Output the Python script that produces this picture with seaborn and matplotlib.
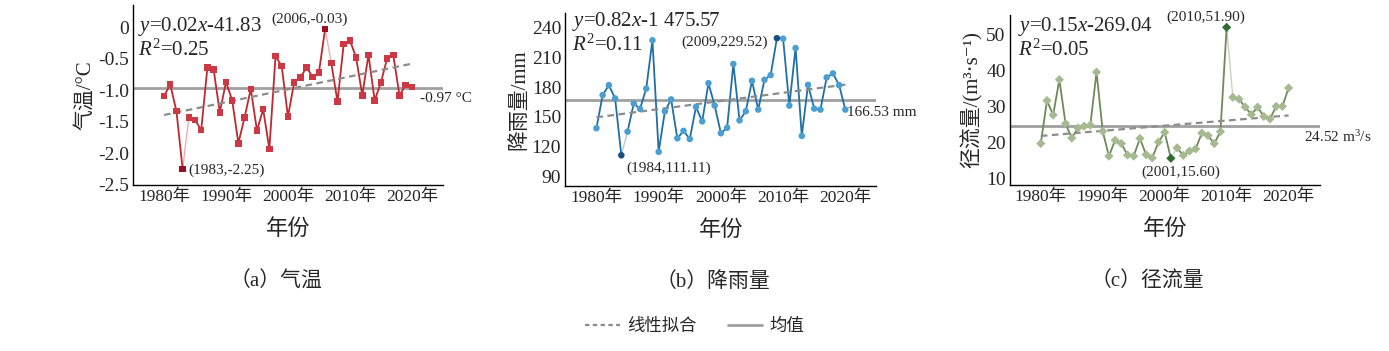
import numpy as np
import pandas as pd
import seaborn as sns
import matplotlib.pyplot as plt
from matplotlib.lines import Line2D

years = list(range(1980, 2021))

temp = [-1.09, -0.91, -1.33, -2.25, -1.43, -1.47, -1.63, -0.64, -0.67, -1.35,
        -0.87, -1.16, -1.84, -1.43, -0.98, -1.64, -1.30, -1.93, -0.46, -0.62,
        -1.42, -0.88, -0.80, -0.64, -0.79, -0.72, -0.03, -0.57, -1.18, -0.27,
        -0.21, -0.48, -1.08, -0.44, -1.16, -0.88, -0.50, -0.44, -1.08, -0.92,
        -0.95]
rain = [138.5, 172.0, 182.0, 168.6, 111.11, 135.0, 163.5, 158.0, 178.5, 227.4,
        114.6, 155.6, 167.6, 128.3, 135.8, 127.6, 160.0, 145.4, 184.0, 161.4,
        133.4, 138.9, 203.4, 146.4, 155.6, 186.4, 157.3, 187.4, 192.2, 229.52,
        229.0, 161.4, 219.5, 130.7, 182.3, 158.3, 157.3, 189.8, 193.9, 182.0,
        157.3]
runoff = [19.7, 31.6, 27.6, 37.4, 25.2, 21.2, 24.0, 24.5, 24.8, 39.5,
          23.1, 16.2, 20.6, 19.7, 16.5, 16.2, 21.1, 16.6, 15.7, 20.1,
          22.8, 15.60, 18.5, 16.4, 17.6, 18.2, 22.6, 21.9, 19.7, 23.0,
          51.90, 32.5, 32.0, 29.8, 27.7, 29.8, 27.2, 26.5, 30.0, 30.0,
          35.1]

means = [-0.97, 166.53, 24.52]
mean_texts = ["-0.97 °C", "166.53 mm", "24.52 m$^3$/s"]
equations = ["$y$=0.02$x$-41.83", "$y$=0.82$x$-1 475.57", "$y$=0.15$x$-269.04"]
r2_texts = ["$R^2$=0.25", "$R^2$=0.11", "$R^2$=0.05"]
ylabels = ["气温/°C", "降雨量/mm", "径流量/(m³·s⁻¹)"]
captions = ["（a）气温", "（b）降雨量", "（c）径流量"]
xtick_years = [1980, 1990, 2000, 2010, 2020]
extremes = [[1983, 2006], [1984, 2009], [2001, 2010]]
extreme_labels = [["(1983,-2.25)", "(2006,-0.03)"],
                  ["(1984,111.11)", "(2009,229.52)"],
                  ["(2001,15.60)", "(2010,51.90)"]]

sns.set_style("white")
plt.rcParams['font.family'] = ['Liberation Serif', 'Noto Sans CJK SC', 'DejaVu Serif']
plt.rcParams['mathtext.fontset'] = 'custom'
plt.rcParams['mathtext.rm'] = 'Liberation Serif'
plt.rcParams['mathtext.it'] = 'Liberation Serif:italic'

fig = plt.figure(figsize=(13.89, 3.51), dpi=100)
boxes = [[0.0958, 0.473, 0.223, 0.513],
         [0.407, 0.470, 0.224, 0.493],
         [0.727, 0.473, 0.223, 0.484]]
ylims = [(-2.5, 0.35), (80, 255), (8.2, 55.3)]
yticks = [np.arange(-2.5, 0.01, 0.5), np.arange(90, 241, 30), np.arange(10, 51, 10)]
styles = [dict(line="#c0282f", mk="#cc3844", dark="#9a1020", light="#eab0b0", marker="s", ms=22),
          dict(line="#1f6fa8", mk="#4a9fd0", dark="#174f80", light="#b8c8d6", marker="o", ms=22),
          dict(line="#6e8a58", mk="#a6ba92", dark="#2e6b30", light="#c8d2be", marker="D", ms=22)]
ann_offsets = [[(44, -1), (-16, 10)],
               [(47, -13), (-52, -4)],
               [(10, -14), (-21, 10)]]
mean_pos = [(0.925, -10), (0.904, -12), (0.95, -11)]
eq_pos = [(0.016, 0.878, 0.75), (0.022, 0.948, 0.815), (0.026, 0.93, 0.794)]

for k, vals in enumerate([temp, rain, runoff]):
    ax = fig.add_axes(boxes[k])
    st = styles[k]
    df = pd.DataFrame({"year": years, "value": vals})

    # the segment right after an extreme point is drawn light
    cuts = sorted(years.index(y) for y in extremes[k])
    start = 0
    for c in cuts:
        sns.lineplot(data=df.iloc[start:c + 1], x="year", y="value", ax=ax,
                     color=st["line"], lw=1.3, zorder=2)
        sns.lineplot(data=df.iloc[c:c + 2], x="year", y="value", ax=ax,
                     color=st["light"], lw=1.0, zorder=1)
        start = c + 1
    sns.lineplot(data=df.iloc[start:], x="year", y="value", ax=ax,
                 color=st["line"], lw=1.3, zorder=2)

    normal = df[~df["year"].isin(extremes[k])]
    ext = df[df["year"].isin(extremes[k])]
    sns.scatterplot(data=normal, x="year", y="value", ax=ax, marker=st["marker"],
                    s=st["ms"], color=st["mk"], edgecolor="none", zorder=3)
    sns.scatterplot(data=ext, x="year", y="value", ax=ax, marker=st["marker"],
                    s=st["ms"], color=st["dark"], edgecolor="none", zorder=3)

    sns.regplot(data=df, x="year", y="value", ax=ax, scatter=False, ci=None,
                line_kws=dict(color="#8c8c8c", ls=(0, (3, 2)), lw=1.6), truncate=True)
    ax.axhline(means[k], color="#a0a0a0", lw=2, zorder=0)

    ax.set_xlim(1975, 2025)
    ax.set_ylim(*ylims[k])
    ax.set_xticks(xtick_years)
    ax.set_xticklabels([f"{y}年" for y in xtick_years])
    ax.set_yticks(yticks[k])
    if k == 0:
        ax.set_yticklabels(["-2.5", "-2.0", "-1.5", "-1.0", "-0.5", "0"])
    ax.tick_params(direction="in", length=3, width=0.8, pad=3)
    ax.tick_params(axis="x", labelsize=12.5)
    ax.tick_params(axis="y", labelsize=14)
    ax.set_xlabel("年份", fontsize=16, labelpad=10)
    ax.set_ylabel(ylabels[k], fontsize=15, labelpad=2)
    sns.despine(ax=ax)
    for sp in ["left", "bottom"]:
        ax.spines[sp].set_color("black")
        ax.spines[sp].set_linewidth(1.0)

    ex, ey1, ey2 = eq_pos[k]
    ax.text(ex, ey1, equations[k], transform=ax.transAxes, fontsize=15, va="center")
    ax.text(ex, ey2, r2_texts[k], transform=ax.transAxes, fontsize=15, va="center")

    for j, yr in enumerate(extremes[k]):
        v = vals[years.index(yr)]
        ax.annotate(extreme_labels[k][j], xy=(yr, v), xytext=ann_offsets[k][j],
                    textcoords="offset pixels", ha="center", va="center", fontsize=11)

    mx, moff = mean_pos[k]
    ax.annotate(mean_texts[k], xy=(mx, means[k]), xycoords=("axes fraction", "data"),
                xytext=(0, moff), textcoords="offset pixels", ha="left", va="center",
                fontsize=11, annotation_clip=False)

fig.text(0.199, 0.197, captions[0], ha="center", va="center", fontsize=15)
fig.text(0.513, 0.197, captions[1], ha="center", va="center", fontsize=15)
fig.text(0.826, 0.197, captions[2], ha="center", va="center", fontsize=15)

handles = [Line2D([], [], color="#8c8c8c", ls=(0, (2, 1.5)), lw=1.6),
           Line2D([], [], color="#a0a0a0", lw=2)]
fig.legend(handles, ["线性拟合", "均值"], loc="center", bbox_to_anchor=(0.5, 0.068),
           ncol=2, frameon=False, fontsize=12.5, handlelength=2.0, columnspacing=1.8,
           handletextpad=0.4)

fig.savefig("out.png", dpi=100)
